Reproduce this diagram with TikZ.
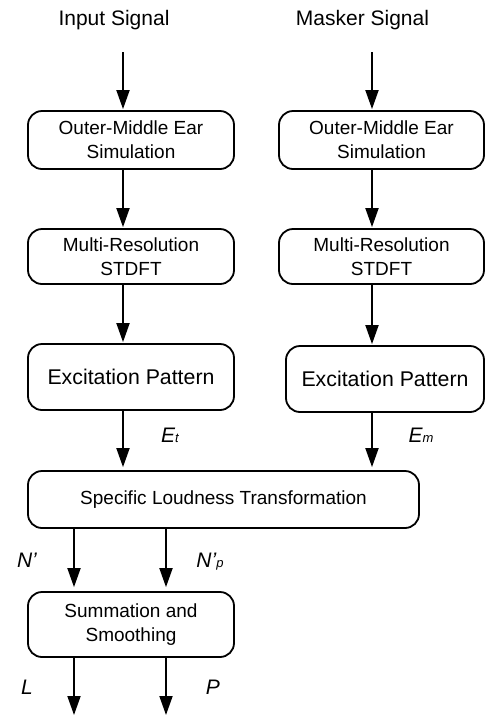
\documentclass[tikz,border=0pt]{standalone}
\usepackage{fontspec}
\setmainfont{Liberation Sans}
\usetikzlibrary{arrows.meta}
\newcommand{\smallsub}[1]{{\fontsize{13}{13}\selectfont #1}}
\begin{document}
\begin{tikzpicture}[x=1pt,y=-1pt,
  box/.style={draw, line width=1.8pt, rounded corners=14pt, inner sep=0pt,
    align=center, font=\fontsize{19}{24}\selectfont},
  bigbox/.style={box, font=\fontsize{21.3}{24}\selectfont},
  arr/.style={line width=1.8pt, -{Triangle[length=19pt,width=13pt]}},
  title/.style={font=\fontsize{21}{24}\selectfont},
  lbl/.style={font=\fontsize{21}{24}\selectfont\itshape}]
\useasboundingbox (0,0) rectangle (487,716);

% signal names
\node[title] (in) at (114,20) {Input Signal};
\node[title] (mk) at (362.5,20) {Masker Signal};

% input branch
\node[box, minimum width=206pt, minimum height=58pt] (om1) at (131,140) {Outer-Middle Ear\\Simulation};
\node[box, minimum width=206pt, minimum height=55pt] (mr1) at (131,256.5) {Multi-Resolution\\STDFT};
\node[bigbox, minimum width=206pt, minimum height=66pt] (ex1) at (131,377) {Excitation Pattern};

% masker branch
\node[box, minimum width=205pt, minimum height=58pt] (om2) at (381.5,140) {Outer-Middle Ear\\Simulation};
\node[box, minimum width=205pt, minimum height=55pt] (mr2) at (381.5,256.5) {Multi-Resolution\\STDFT};
\node[bigbox, minimum width=198pt, minimum height=66pt] (ex2) at (385,379) {Excitation Pattern};

% common stages
\node[box, minimum width=391pt, minimum height=57pt] (sl) at (223.5,499.5) {Specific Loudness Transformation};
\node[box, minimum width=206pt, minimum height=65pt] (sm) at (131,624.5) {Summation and\\Smoothing};

% connector columns
\coordinate (a1) at (123,52);
\coordinate (a2) at (372,52);
\coordinate (cL) at (74,0);
\coordinate (cR) at (166,0);
\coordinate (oL) at (74,715);
\coordinate (oR) at (166,715);

\draw[arr, shorten >=1pt] (a1) -- (a1 |- om1.north);
\draw[arr, shorten >=1pt] (a2) -- (a2 |- om2.north);
\draw[arr, shorten >=1pt] (om1.south -| a1) -- (mr1.north -| a1);
\draw[arr, shorten >=1pt] (om2.south -| a2) -- (mr2.north -| a2);
\draw[arr, shorten >=1pt] (mr1.south -| a1) -- (ex1.north -| a1);
\draw[arr, shorten >=1pt] (mr2.south -| a2) -- (ex2.north -| a2);
\draw[arr, shorten >=3pt] (ex1.south -| a1) -- (sl.north -| a1);
\draw[arr, shorten >=3pt] (ex2.south -| a2) -- (sl.north -| a2);
\draw[arr, shorten >=4pt] (sl.south -| cL) -- (sm.north -| cL);
\draw[arr, shorten >=4pt] (sl.south -| cR) -- (sm.north -| cR);
\draw[arr] (sm.south -| oL) -- (oL);
\draw[arr] (sm.south -| oR) -- (oR);

% signal labels
\node[lbl] (et) at (170,435) {E\smallsub{t}};
\node[lbl] (em) at (421,435) {E\smallsub{m}};
\node[lbl] (np) at (27,560) {N’};
\node[lbl] (npp) at (210,562) {N’\smallsub{p}};
\node[lbl] (lo) at (27,687) {L};
\node[lbl] (pl) at (213,687) {P};
\end{tikzpicture}
\end{document}
